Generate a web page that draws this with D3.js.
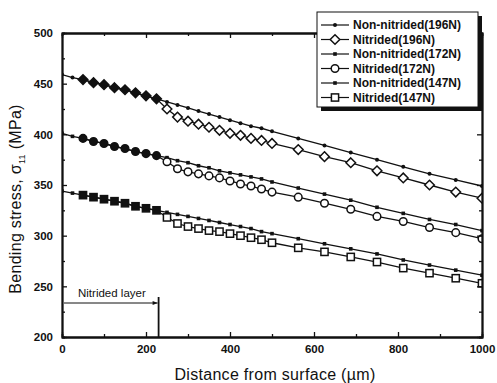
<!DOCTYPE html>
<html>
<head>
<meta charset="utf-8">
<script src="https://cdn.jsdelivr.net/npm/d3@7"></script>
<style>
  body { margin: 0; background: #fff; }
  svg { display: block; font-family: "Liberation Sans", Arial, sans-serif; }
</style>
</head>
<body>
<div id="chart"></div>
<script>
// distance from surface (um)
const distance = [0, 25, 50, 75, 100, 125, 150, 175, 200, 225, 250, 275, 300, 325, 350, 375, 400, 425, 450, 475, 500,
    562.5, 625, 687.5, 750, 812.5, 875, 937.5, 1000];

// bending stress (MPa), null = no point
const nonNitrided196 = [459, 456, 454, 451, 449, 446, 444, 441, 438, 435, 432, 429, 426, 423, 420, 417, 414, 411, 408, 406, 403,
    396, 389, 382, 375, 368, 361, 355, 349];
const nitrided196 = [null, null, 454, 451, 449, 446, 444, 441, 438, 435, 425, 417, 413, 410, 407, 404, 401, 399, 396, 394, 391,
    385, 378, 372, 364, 357, 350, 343, 337];
const nonNitrided172 = [401, 398, 396, 393, 391, 388, 386, 383, 381, 379, 377, 374, 372, 369, 367, 364, 362, 360, 358, 356, 353,
    347, 341, 335, 328, 322, 316, 311, 305];
const nitrided172 = [null, null, 396, 393, 391, 388, 386, 383, 381, 379, 373, 366, 363, 361, 359, 357, 354, 351, 349, 346, 343,
    338, 332, 326, 319, 314, 308, 303, 297];
const nonNitrided147 = [344, 342, 340, 338, 336, 334, 332, 329, 327, 325, 323, 321, 319, 317, 315, 313, 311, 309, 307, 304, 302,
    297, 292, 287, 282, 276, 271, 266, 261];
const nitrided147 = [null, null, 340, 338, 336, 334, 332, 329, 327, 325, 318, 312, 309, 307, 305, 304, 302, 300, 298, 296, 293,
    288, 284, 279, 274, 268, 263, 258, 253];

const seriesNames = ["Non-nitrided(196N)", "Nitrided(196N)", "Non-nitrided(172N)", "Nitrided(172N)", "Non-nitrided(147N)", "Nitrided(147N)"];
const seriesValues = [nonNitrided196, nitrided196, nonNitrided172, nitrided172, nonNitrided147, nitrided147];
const seriesMarkers = ["dot", "diamond", "smallsquare", "circle", "smallsquare", "square"];

const xTicks = [0, 200, 400, 600, 800, 1000];
const yTicks = [200, 250, 300, 350, 400, 450, 500];
const nitridedLayerDepth = 230;

const width = 497, height = 383;
const margin = {top: 33, right: 15, bottom: 46, left: 62};

const x = d3.scaleLinear().domain([0, 1000]).range([margin.left, width - margin.right]);
const y = d3.scaleLinear().domain([200, 500]).range([height - margin.bottom, margin.top]);

const svg = d3.select("#chart").append("svg")
    .attr("width", width).attr("height", height)
    .attr("viewBox", [0, 0, width, height]);

svg.append("rect").attr("width", width).attr("height", height).attr("fill", "#fff");

svg.append("clipPath").attr("id", "plot-clip")
    .append("rect")
    .attr("x", x(0)).attr("y", y(500))
    .attr("width", x(1000) - x(0)).attr("height", y(200) - y(500));

function drawMarker(sel, type, filled) {
    const fill = filled ? "#111" : "#fff";
    if (type === "dot") {
        sel.append("circle").attr("r", 2).attr("fill", "#111");
    } else if (type === "smallsquare") {
        sel.append("rect").attr("x", -1.8).attr("y", -1.8).attr("width", 3.6).attr("height", 3.6).attr("fill", "#111");
    } else if (type === "circle") {
        sel.append("circle").attr("r", 3.8).attr("fill", fill).attr("stroke", "#111").attr("stroke-width", 1.5);
    } else if (type === "square") {
        sel.append("rect").attr("x", -3.6).attr("y", -3.6).attr("width", 7.2).attr("height", 7.2)
            .attr("fill", fill).attr("stroke", "#111").attr("stroke-width", 1.5);
    } else if (type === "diamond") {
        sel.append("path").attr("d", "M0,-4.8L4.8,0L0,4.8L-4.8,0Z")
            .attr("fill", fill).attr("stroke", "#111").attr("stroke-width", 1.5);
    }
}

const line = d3.line()
    .defined(d => d[1] != null)
    .x(d => x(d[0]))
    .y(d => y(d[1]));

const plot = svg.append("g").attr("clip-path", "url(#plot-clip)");

seriesValues.forEach((vals, i) => {
    const pts = distance.map((d, j) => [d, vals[j]]);
    plot.append("path")
        .datum(pts)
        .attr("fill", "none")
        .attr("stroke", "#111")
        .attr("stroke-width", 1.3)
        .attr("d", line);
});

seriesValues.forEach((vals, i) => {
    const pts = distance.map((d, j) => [d, vals[j]]).filter(d => d[1] != null);
    plot.append("g").selectAll("g")
        .data(pts)
        .join("g")
        .attr("transform", d => `translate(${x(d[0])},${y(d[1])})`)
        .each(function (d) {
            drawMarker(d3.select(this), seriesMarkers[i], d[0] < nitridedLayerDepth);
        });
});

// axes
const axisFont = g => g.selectAll("text")
    .attr("font-size", 11.5).attr("font-weight", "bold").attr("fill", "#111")
    .attr("font-family", "'Liberation Sans', Arial, sans-serif");

function styleAxis(g) {
    g.select(".domain").attr("stroke", "#111").attr("stroke-width", 1.8);
    g.selectAll(".tick line").attr("stroke", "#111").attr("stroke-width", 1.3);
}

const xMinor = d3.range(100, 1000, 200);
const yMinor = d3.range(225, 500, 50);
const fmt = d3.format("d");

svg.append("g").attr("transform", `translate(0,${y(200)})`)
    .call(d3.axisBottom(x).tickValues(xMinor).tickSize(-3).tickFormat(""))
    .call(styleAxis);
svg.append("g").attr("transform", `translate(0,${y(200)})`)
    .call(d3.axisBottom(x).tickValues(xTicks).tickSize(-5).tickPadding(8).tickSizeOuter(0).tickFormat(fmt))
    .call(styleAxis).call(axisFont);

svg.append("g").attr("transform", `translate(0,${y(500)})`)
    .call(d3.axisTop(x).tickValues(xMinor).tickSize(-3).tickFormat(""))
    .call(styleAxis);
svg.append("g").attr("transform", `translate(0,${y(500)})`)
    .call(d3.axisTop(x).tickValues(xTicks).tickSize(-5).tickFormat("").tickSizeOuter(0))
    .call(styleAxis);

svg.append("g").attr("transform", `translate(${x(0)},0)`)
    .call(d3.axisLeft(y).tickValues(yMinor).tickSize(-3).tickFormat(""))
    .call(styleAxis);
svg.append("g").attr("transform", `translate(${x(0)},0)`)
    .call(d3.axisLeft(y).tickValues(yTicks).tickSize(-5).tickPadding(9).tickSizeOuter(0).tickFormat(fmt))
    .call(styleAxis).call(axisFont);

svg.append("g").attr("transform", `translate(${x(1000)},0)`)
    .call(d3.axisRight(y).tickValues(yMinor).tickSize(-3).tickFormat(""))
    .call(styleAxis);
svg.append("g").attr("transform", `translate(${x(1000)},0)`)
    .call(d3.axisRight(y).tickValues(yTicks).tickSize(-5).tickFormat("").tickSizeOuter(0))
    .call(styleAxis);

// axis titles
svg.append("text")
    .attr("x", 275).attr("y", 380)
    .attr("text-anchor", "middle").attr("font-size", 16).attr("fill", "#111")
    .attr("letter-spacing", 0.3)
    .text("Distance from surface (\u00b5m)");

const yTitle = svg.append("text")
    .attr("transform", "translate(21,199) rotate(-90)")
    .attr("text-anchor", "middle").attr("font-size", 16).attr("fill", "#111")
    .attr("letter-spacing", 0.3);
yTitle.append("tspan").text("Bending stress, \u03c3");
yTitle.append("tspan").attr("font-size", 9).attr("dy", 4).text("11");
yTitle.append("tspan").attr("dy", -4).text(" (MPa)");

// nitrided layer annotation
const layerY = 303;
svg.append("defs").append("marker")
    .attr("id", "arrow").attr("viewBox", "0 0 10 10")
    .attr("refX", 10).attr("refY", 5)
    .attr("markerWidth", 6).attr("markerHeight", 5).attr("orient", "auto")
    .append("path").attr("d", "M0,1L10,5L0,9Z").attr("fill", "#111");

svg.append("line")
    .attr("x1", x(0) + 2).attr("x2", x(nitridedLayerDepth) - 1)
    .attr("y1", layerY).attr("y2", layerY)
    .attr("stroke", "#111").attr("stroke-width", 1)
    .attr("marker-end", "url(#arrow)");
svg.append("line")
    .attr("x1", x(nitridedLayerDepth)).attr("x2", x(nitridedLayerDepth))
    .attr("y1", 297).attr("y2", y(200))
    .attr("stroke", "#111").attr("stroke-width", 1.8);
svg.append("text")
    .attr("x", x(0) + 16).attr("y", 297)
    .attr("font-size", 11.5).attr("fill", "#111")
    .text("Nitrided layer");

// legend
const legend = svg.append("g").attr("transform", "translate(317,12)");
const lw = 161, lh = 95;
legend.append("rect").attr("x", 4).attr("y", 4).attr("width", lw).attr("height", lh).attr("fill", "#111");
legend.append("rect").attr("width", lw).attr("height", lh).attr("fill", "#fff")
    .attr("stroke", "#111").attr("stroke-width", 1);

const rows = legend.selectAll("g.row")
    .data(seriesNames)
    .join("g")
    .attr("class", "row")
    .attr("transform", (d, i) => `translate(0,${13 + i * 14.5})`);

rows.append("line").attr("x1", 4).attr("x2", 32).attr("stroke", "#111").attr("stroke-width", 1.2);
rows.append("g").attr("transform", "translate(18,0)")
    .each(function (d, i) { drawMarker(d3.select(this), seriesMarkers[i], false); });
rows.append("text")
    .attr("x", 36).attr("dy", "0.35em")
    .attr("font-size", 12).attr("font-weight", "bold").attr("fill", "#111")
    .text(d => d);
</script>
</body>
</html>
